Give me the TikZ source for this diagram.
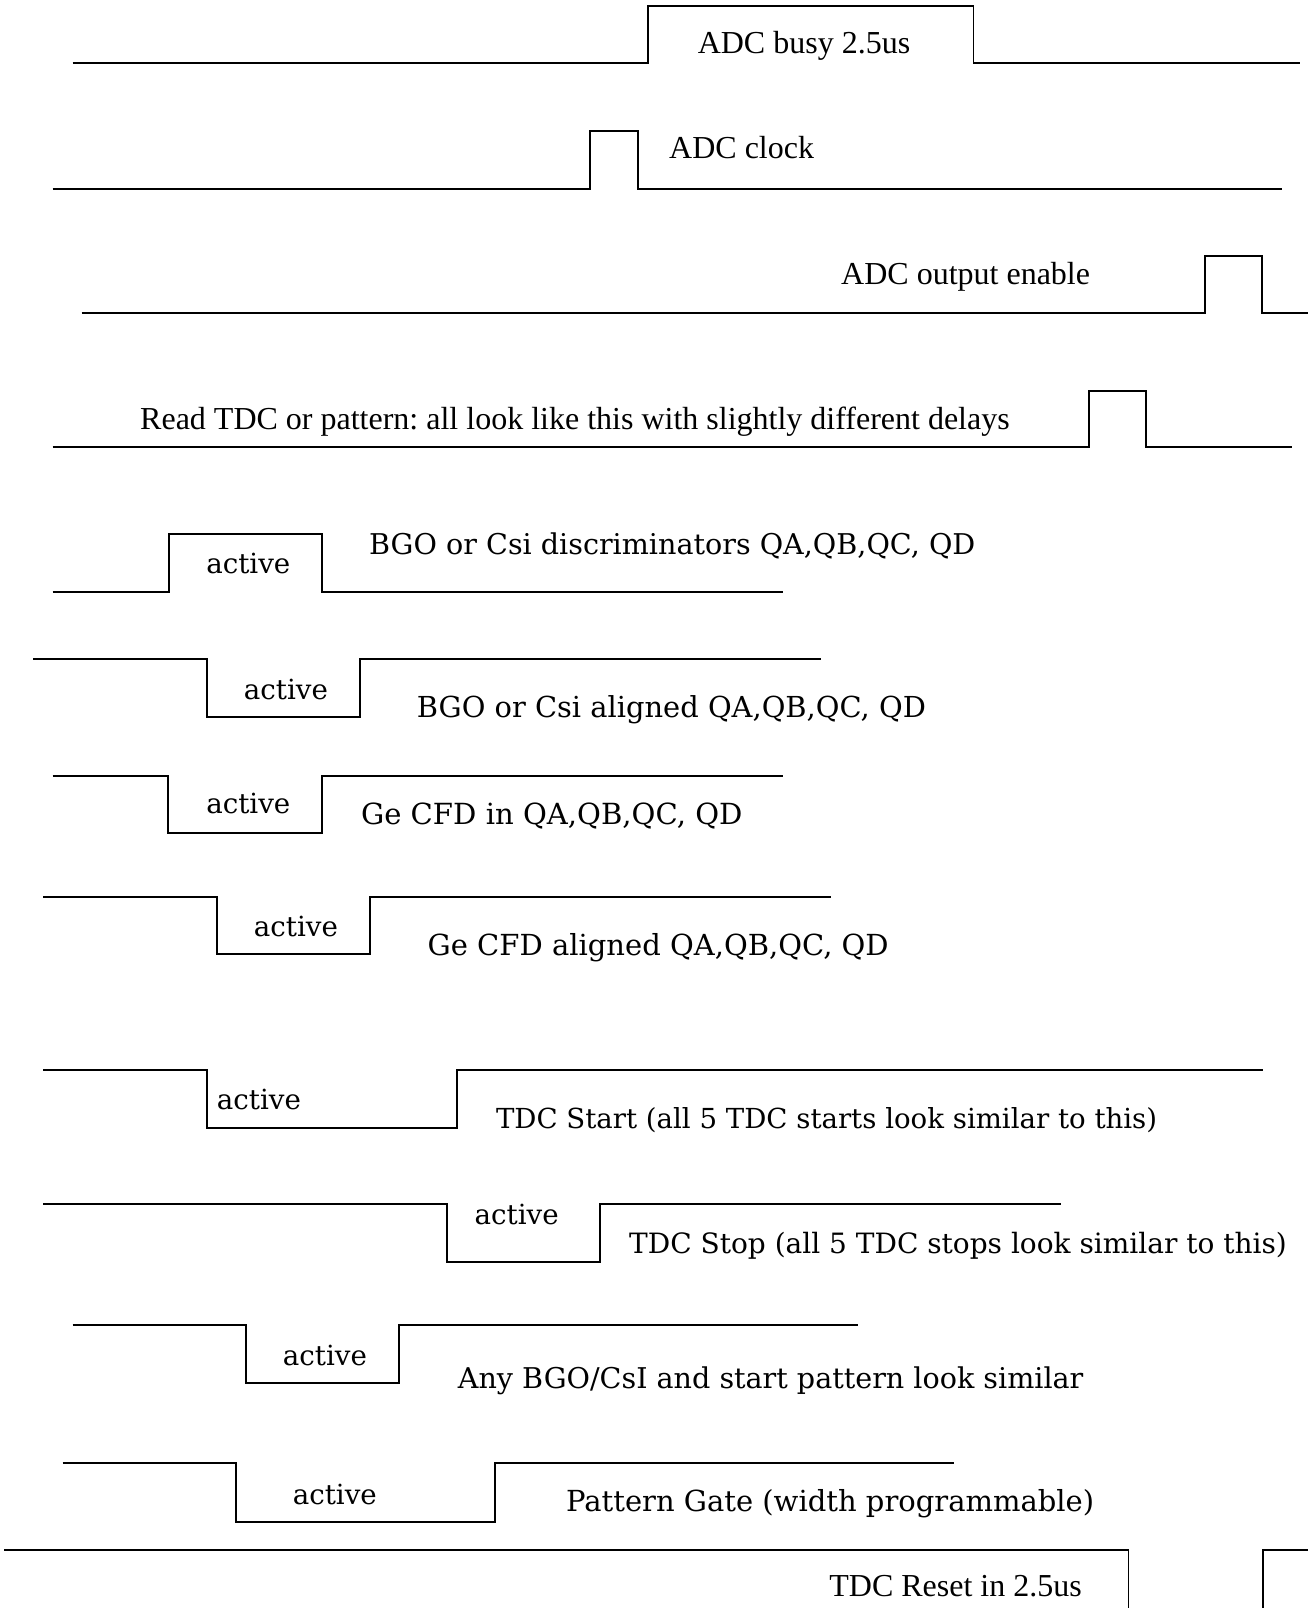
\documentclass[tikz,border=0pt]{standalone}
\usepackage{fontspec}
\newfontfamily\timesf{Liberation Serif}
\newfontfamily\charf{DejaVu Serif}
\frenchspacing
\begin{document}
\begin{tikzpicture}[x=1pt,y=-1pt,
  wave/.style={line width=1.8pt, line join=miter},
  tlab/.style={font=\timesf\fontsize{32}{32}\selectfont, inner sep=0pt, anchor=base west},
  clab/.style={font=\charf\fontsize{#1}{#1}\selectfont, inner sep=0pt, anchor=base west},
  clab/.default=28.7,
  act/.style={font=\charf\fontsize{27.7}{27.7}\selectfont, inner sep=0pt, anchor=base}]
\useasboundingbox[fill=white] (0,0) rectangle (1308,1608);
% 1 ADC busy
\draw[wave] (72.5,63.3) -- (648,63.3) -- (648,6) -- (973.5,6) -- (973.5,63.3) -- (1300,63.3);
\node[tlab, anchor=base] (busy) at (804,53.3) {ADC busy 2.5us};
% 2 ADC clock
\draw[wave] (52.5,189) -- (590,189) -- (590,131) -- (638.3,131) -- (638.3,189) -- (1281.7,189);
\node[tlab] (clk) at (669,159) {ADC clock};
% 3 ADC output enable
\draw[wave] (81.7,313.3) -- (1205,313.3) -- (1205,256) -- (1261.7,256) -- (1261.7,313.3) -- (1310,313.3);
\node[tlab] (oe) at (841,284.3) {ADC output enable};
% 4 Read TDC
\draw[wave] (52.5,447.3) -- (1089,447.3) -- (1089,390.7) -- (1146,390.7) -- (1146,447.3) -- (1291.7,447.3);
\node[tlab] (rd) at (140,429) {Read TDC or pattern: all look like this with slightly different delays};
% 5 BGO discriminators
\draw[wave] (52.5,591.7) -- (169,591.7) -- (169,534) -- (321.7,534) -- (321.7,591.7) -- (783.3,591.7);
\node[act] (a5) at (248.3,573.3) {active};
\node[clab=28.6] (l5) at (369,554) {BGO or Csi discriminators QA,QB,QC, QD};
% 6 BGO aligned
\draw[wave] (33.3,659) -- (206.7,659) -- (206.7,716.7) -- (360,716.7) -- (360,659) -- (820.8,659);
\node[act] (a6) at (286,699.3) {active};
\node[clab=28.9] (l6) at (416.7,717.3) {BGO or Csi aligned QA,QB,QC, QD};
% 7 Ge CFD in
\draw[wave] (52.5,775.7) -- (168.3,775.7) -- (168.3,833) -- (321.7,833) -- (321.7,775.7) -- (783.3,775.7);
\node[act] (a7) at (248.3,813.3) {active};
\node[clab=29.1] (l7) at (360.8,824) {Ge CFD in QA,QB,QC, QD};
% 8 Ge CFD aligned
\draw[wave] (43.3,897) -- (216.7,897) -- (216.7,954.3) -- (370,954.3) -- (370,897) -- (830.8,897);
\node[act] (a8) at (296,936) {active};
\node[clab=29] (l8) at (427.5,955) {Ge CFD aligned QA,QB,QC, QD};
% 9 TDC Start
\draw[wave] (43.3,1070) -- (206.7,1070) -- (206.7,1128) -- (456.7,1128) -- (456.7,1070) -- (1262.5,1070);
\node[act, anchor=base west] (a9) at (216.7,1109.3) {active};
\node[clab=27.6] (l9) at (495.8,1128.3) {TDC Start (all 5 TDC starts look similar to this)};
% 10 TDC Stop
\draw[wave] (43.3,1204) -- (446.7,1204) -- (446.7,1262) -- (600,1262) -- (600,1204) -- (1060.8,1204);
\node[act] (a10) at (516.7,1224.3) {active};
\node[clab=28] (l10) at (629,1253.3) {TDC Stop (all 5 TDC stops look similar to this)};
% 11 Any BGO
\draw[wave] (72.5,1325) -- (246,1325) -- (246,1382.7) -- (399,1382.7) -- (399,1325) -- (858.3,1325);
\node[act] (a11) at (325,1365) {active};
\node[clab=28.6] (l11) at (457.7,1388.3) {Any BGO/CsI and start pattern look similar};
% 12 Pattern Gate
\draw[wave] (62.5,1463.3) -- (235.7,1463.3) -- (235.7,1521.7) -- (495,1521.7) -- (495,1463.3) -- (954.2,1463.3);
\node[act] (a12) at (334.8,1504.3) {active};
\node[clab=29] (l12) at (566,1511) {Pattern Gate (width programmable)};
% 13 TDC Reset
\draw[wave] (4,1550) -- (1128.5,1550) -- (1128.5,1612);
\draw[wave] (1263,1612) -- (1263,1550) -- (1310,1550);
\node[tlab, anchor=base east] (rst) at (1082,1596) {TDC Reset in 2.5us};
\end{tikzpicture}
\end{document}
